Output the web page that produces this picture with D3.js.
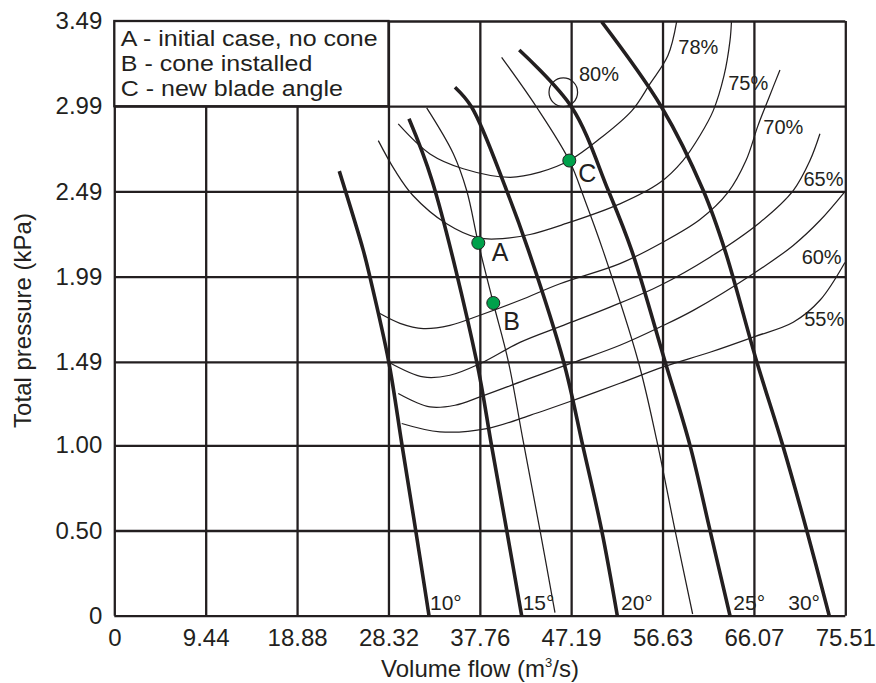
<!DOCTYPE html>
<html><head><meta charset="utf-8">
<script src="https://cdn.jsdelivr.net/npm/d3@7"></script>
<style>
body{margin:0;background:#fff}
svg{display:block}
text{font-family:"Liberation Sans",Arial,sans-serif;fill:#231f20}
</style>
</head><body>
<svg id="c" width="876" height="683"></svg>
<script>
// ---------- data ----------
const xTicks = [0, 9.44, 18.88, 28.32, 37.76, 47.19, 56.63, 66.07, 75.51];
const xTickLabels = ["0", "9.44", "18.88", "28.32", "37.76", "47.19", "56.63", "66.07", "75.51"];
const yTicks = [0, 0.50, 1.00, 1.49, 1.99, 2.49, 2.99, 3.49];
const yTickLabels = ["0", "0.50", "1.00", "1.49", "1.99", "2.49", "2.99", "3.49"];

const legendLines = ["A - initial case, no cone", "B - cone installed", "C - new blade angle"];

// blade angle curves: [flow m3/s, pressure kPa]
const bladeNames = ["10°", "15°", "20°", "25°", "30°"];
const blade10 = [[23.24,2.609],[25.72,2.144],[26.41,1.987],[28.34,1.493],[29.72,1.001],[31.13,0.502],[32.51,0]];
const blade15 = [[30.44,2.916],[32.82,2.554],[37.43,1.493],[38.96,1.001],[40.53,0.502],[42.08,0]];
const blade20 = [[35.19,3.101],[36.92,2.984],[40.53,2.495],[42.78,2.144],[46.40,1.493],[48.38,1.001],[50.34,0.502],[51.96,0]];
const blade25 = [[41.83,3.320],[47.25,2.984],[51.03,2.495],[53.44,2.144],[56.88,1.493],[59.46,1.001],[61.53,0.502],[63.60,0]];
const blade30 = [[50.34,3.486],[56.54,2.984],[60.84,2.495],[63.08,2.144],[66.35,1.493],[69.04,1.001],[71.52,0.502],[73.85,0]];
const bladeLabelPos = [[32.61,0.033],[42.18,0.033],[52.34,0.033],[63.94,0.033],[69.62,0.033]];

// efficiency contours
const eff78 = [[29.33,2.886],[32.61,2.710],[36.05,2.623],[40.87,2.573],[43.97,2.603],[47.00,2.671],[50.17,2.800],[53.47,2.964],[55.33,3.121],[57.19,3.287],[58.09,3.486]];
const eff75 = [[27.27,2.788],[28.99,2.613],[30.85,2.466],[34.33,2.300],[37.60,2.217],[40.36,2.214],[42.94,2.237],[46.38,2.296],[52.23,2.417],[56.37,2.542],[58.74,2.671],[60.50,2.818],[61.87,2.964],[62.98,3.169],[63.60,3.375],[63.75,3.486]];
const eff70 = [[27.44,1.773],[29.51,1.716],[31.92,1.685],[34.67,1.704],[37.77,1.763],[41.90,1.851],[46.04,1.948],[52.23,2.066],[56.37,2.183],[60.50,2.325],[63.39,2.484],[65.25,2.671],[66.49,2.876],[67.62,3.040],[68.76,3.203]];
const eff65 = [[28.30,1.489],[31.92,1.401],[34.67,1.411],[37.77,1.479],[41.90,1.604],[46.38,1.704],[51.20,1.811],[56.37,1.938],[61.53,2.104],[66.69,2.308],[70.13,2.495],[71.86,2.671],[72.89,2.828]];
const eff60 = [[29.33,1.304],[32.61,1.225],[35.19,1.235],[37.77,1.284],[42.42,1.382],[47.07,1.479],[52.23,1.587],[56.37,1.694],[59.81,1.792],[66.00,2.007],[70.13,2.173],[72.89,2.319],[75.47,2.489]];
const eff55 = [[29.69,1.128],[33.64,1.079],[38.47,1.098],[42.94,1.176],[47.41,1.264],[52.23,1.364],[56.71,1.460],[61.53,1.546],[66.00,1.635],[70.13,1.722],[72.89,1.851],[75.47,2.073]];
const eff80Center = [46.38, 3.072];
const effNames = ["80%", "78%", "75%", "70%", "65%", "60%", "55%"];
const effLabelPos = [[48.00,3.140],[58.26,3.297],[63.42,3.086],[67.04,2.828],[71.19,2.522],[71.00,2.066],[71.27,1.698]];

// thin operating lines through the points
const lineAB = [[32.27,2.980],[35.02,2.711],[36.40,2.495],[37.60,2.187],[39.15,1.835],[40.70,1.493],[42.22,1.030],[43.97,0.502],[45.52,0.018]];
const lineC = [[40.01,3.277],[43.63,2.984],[47.00,2.671],[48.62,2.437],[50.48,2.144],[54.12,1.493],[56.03,1.030],[57.92,0.502],[59.74,0.010]];

// operating points
const pointNames = ["A", "B", "C"];
const pointFlow = [37.60, 39.15, 47.00];
const pointPressure = [2.188, 1.835, 2.671];
const pointLabelPos = [[38.98,2.079],[40.18,1.675],[47.93,2.544]];

// ---------- drawing ----------
const ink = "#231f20";
const font = '"Liberation Sans", Arial, sans-serif';
const svg = d3.select("#c");
svg.append("rect").attr("width",876).attr("height",683).attr("fill","#fff");

const x = d3.scaleLinear().domain([0, 75.51]).range([114.3, 845.3]);
const y = d3.scaleLinear().domain([0, 3.49]).range([615.7, 21]);
const W = x(75.51) - x(0), H = y(0) - y(3.49);

svg.append("defs").append("clipPath").attr("id","plot")
  .append("rect").attr("x",x(0)).attr("y",y(3.49)).attr("width",W).attr("height",H);

// grid + tick labels
svg.append("g").attr("transform",`translate(0,${y(0)})`)
  .call(d3.axisBottom(x).tickValues(xTicks).tickFormat(d => xTickLabels[xTicks.indexOf(d)])
    .tickSizeInner(-H).tickSizeOuter(0).tickPadding(13))
  .call(g => g.select(".domain").remove())
  .call(g => g.selectAll("line").attr("stroke",ink).attr("stroke-width",2.3))
  .call(g => g.selectAll("text").attr("font-size",24).attr("font-family",font).attr("fill",ink));

svg.append("g").attr("transform",`translate(${x(0)},0)`)
  .call(d3.axisLeft(y).tickValues(yTicks).tickFormat(d => yTickLabels[yTicks.indexOf(d)])
    .tickSizeInner(-W).tickSizeOuter(0).tickPadding(12))
  .call(g => g.select(".domain").remove())
  .call(g => g.selectAll("line").attr("stroke",ink).attr("stroke-width",2.3))
  .call(g => g.selectAll("text").attr("font-size",24).attr("font-family",font).attr("fill",ink));

// legend box
const lx0 = x(0), lx1 = x(28.32), ly0 = y(3.49), ly1 = y(2.99);
svg.append("rect").attr("x",lx0).attr("y",ly0).attr("width",lx1-lx0).attr("height",ly1-ly0)
  .attr("fill","#fff").attr("stroke",ink).attr("stroke-width",2.3);
svg.append("g").selectAll("text").data(legendLines).join("text")
  .attr("x", lx0 + 6.5).attr("y", (d,i) => ly0 + 25 + 25*i)
  .attr("font-size",22.3).text(d => d)
  .each(function(){ const w = this.getComputedTextLength();
    d3.select(this).attr("textLength", w*1.12).attr("lengthAdjust","spacingAndGlyphs"); });

const line = d3.line().x(d => x(d[0])).y(d => y(d[1])).curve(d3.curveCatmullRom.alpha(0.5));
const plot = svg.append("g").attr("clip-path","url(#plot)");

// efficiency contours
[eff78, eff75, eff70, eff65, eff60, eff55].forEach(c => {
  plot.append("path").attr("d", line(c)).attr("fill","none").attr("stroke",ink).attr("stroke-width",1.25);
});
plot.append("circle").attr("cx",x(eff80Center[0])).attr("cy",y(eff80Center[1])).attr("r",14.3)
  .attr("fill","none").attr("stroke",ink).attr("stroke-width",1.25);

// operating lines
[lineAB, lineC].forEach(c => {
  plot.append("path").attr("d", line(c)).attr("fill","none").attr("stroke",ink).attr("stroke-width",1.25);
});

// blade curves
[blade10, blade15, blade20, blade25, blade30].forEach(c => {
  plot.append("path").attr("d", line(c)).attr("fill","none").attr("stroke",ink).attr("stroke-width",3.6);
});

// labels
svg.append("g").selectAll("text").data(bladeNames).join("text")
  .attr("x",(d,i)=>x(bladeLabelPos[i][0])).attr("y",(d,i)=>y(bladeLabelPos[i][1]))
  .attr("font-size",21).text(d=>d);
svg.append("g").selectAll("text").data(effNames).join("text")
  .attr("x",(d,i)=>x(effLabelPos[i][0])).attr("y",(d,i)=>y(effLabelPos[i][1]))
  .attr("font-size",20).text(d=>d);

// points
svg.append("g").selectAll("circle").data(pointNames).join("circle")
  .attr("cx",(d,i)=>x(pointFlow[i])).attr("cy",(d,i)=>y(pointPressure[i])).attr("r",6.5)
  .attr("fill","#00a14b").attr("stroke",ink).attr("stroke-width",1);
svg.append("g").selectAll("text").data(pointNames).join("text")
  .attr("x",(d,i)=>x(pointLabelPos[i][0])).attr("y",(d,i)=>y(pointLabelPos[i][1]))
  .attr("font-size",25).text(d=>d);

// axis titles
const xt = svg.append("text").attr("x",480).attr("y",676.5).attr("text-anchor","middle").attr("font-size",24);
xt.append("tspan").text("Volume flow (m");
xt.append("tspan").attr("font-size",13).attr("dy",-10).text("3");
xt.append("tspan").attr("dy",10).text("/s)");

svg.append("text").attr("transform","translate(30.5,320.5) rotate(-90)")
  .attr("text-anchor","middle").attr("font-size",24).text("Total pressure (kPa)");
</script>
</body></html>
